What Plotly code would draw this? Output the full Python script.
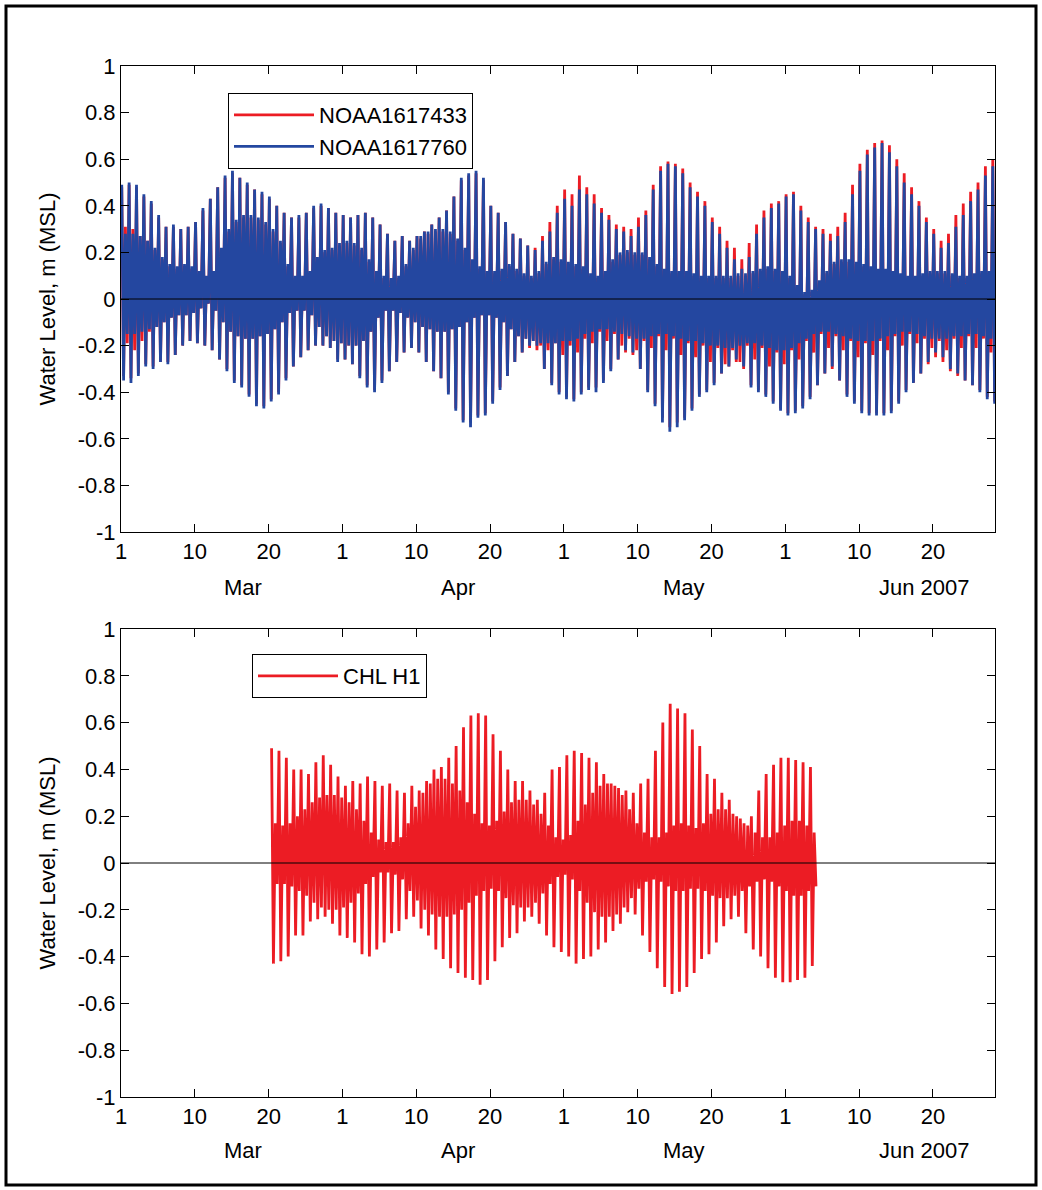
import pandas as pd
import plotly.graph_objects as go

START = pd.Timestamp("2007-03-01")
X_SPAN_DAYS = 118.4

x_tick_days = [0, 10, 20, 30, 40, 50, 60, 70, 80, 90, 100, 110]
x_tick_labels = ["1", "10", "20", "1", "10", "20", "1", "10", "20", "1", "10", "20"]
month_labels = ["Mar", "Apr", "May", "Jun 2007"]
month_label_days = [16.5, 45.7, 76.3, 108.9]
y_tick_vals = [1, 0.8, 0.6, 0.4, 0.2, 0, -0.2, -0.4, -0.6, -0.8, -1]
y_tick_labels = ["1", "0.8", "0.6", "0.4", "0.2", "0", "-0.2", "-0.4", "-0.6", "-0.8", "-1"]

# ---- NOAA1617760 (blue): daily higher high, lower low, lower high, higher low (m, MSL)
n760_start_day = 0
n760_hh = [0.49, 0.50, 0.49, 0.45, 0.42, 0.36, 0.31, 0.32, 0.30, 0.31,
           0.33, 0.39, 0.43, 0.48, 0.53, 0.55, 0.52, 0.50, 0.47, 0.46,
           0.44, 0.40, 0.37, 0.35, 0.36, 0.37, 0.40, 0.41, 0.39, 0.37,
           0.36, 0.35, 0.36, 0.37, 0.35, 0.32, 0.28, 0.25, 0.27, 0.25,
           0.27, 0.29, 0.32, 0.35, 0.38, 0.44, 0.52, 0.54, 0.55, 0.52,
           0.40, 0.37, 0.33, 0.28, 0.26, 0.23, 0.21, 0.25, 0.29, 0.37,
           0.43, 0.40, 0.47, 0.45, 0.41, 0.37, 0.34, 0.30, 0.29, 0.27,
           0.31, 0.36, 0.47, 0.55, 0.58, 0.57, 0.54, 0.48, 0.44, 0.40,
           0.33, 0.28, 0.22, 0.17, 0.13, 0.18, 0.28, 0.35, 0.39, 0.41,
           0.44, 0.45, 0.38, 0.33, 0.30, 0.28, 0.25, 0.27, 0.33, 0.45,
           0.55, 0.62, 0.65, 0.67, 0.63, 0.57, 0.50, 0.45, 0.40, 0.33,
           0.28, 0.22, 0.24, 0.31, 0.36, 0.42, 0.47, 0.53, 0.57]
n760_ll = [-0.35, -0.36, -0.33, -0.29, -0.30, -0.27, -0.28, -0.24, -0.20, -0.18,
           -0.19, -0.20, -0.22, -0.26, -0.31, -0.36, -0.38, -0.42, -0.46, -0.47,
           -0.44, -0.41, -0.35, -0.29, -0.25, -0.22, -0.20, -0.20, -0.21, -0.27,
           -0.26, -0.28, -0.34, -0.38, -0.40, -0.36, -0.31, -0.27, -0.23, -0.21,
           -0.23, -0.27, -0.31, -0.34, -0.41, -0.48, -0.53, -0.55, -0.51, -0.50,
           -0.45, -0.39, -0.33, -0.27, -0.23, -0.20, -0.20, -0.30, -0.37, -0.41,
           -0.43, -0.44, -0.41, -0.39, -0.40, -0.36, -0.31, -0.26, -0.22, -0.23,
           -0.30, -0.40, -0.46, -0.53, -0.57, -0.55, -0.52, -0.48, -0.42, -0.40,
           -0.37, -0.32, -0.29, -0.26, -0.29, -0.38, -0.40, -0.42, -0.45, -0.48,
           -0.50, -0.49, -0.47, -0.43, -0.37, -0.32, -0.29, -0.35, -0.42, -0.45,
           -0.49, -0.50, -0.50, -0.50, -0.49, -0.45, -0.40, -0.36, -0.32, -0.27,
           -0.23, -0.25, -0.30, -0.32, -0.35, -0.37, -0.40, -0.43, -0.45]
n760_lh = [0.28, 0.28, 0.27, 0.25, 0.22, 0.18, 0.15, 0.14, 0.15, 0.14,
           0.12, 0.10, 0.12, 0.22, 0.30, 0.34, 0.36, 0.36, 0.35, 0.33,
           0.30, 0.25, 0.15, 0.10, 0.10, 0.12, 0.18, 0.21, 0.22, 0.24,
           0.25, 0.24, 0.22, 0.17, 0.12, 0.10, 0.09, 0.10, 0.15, 0.22,
           0.27, 0.29, 0.30, 0.30, 0.29, 0.26, 0.22, 0.17, 0.14, 0.12,
           0.12, 0.13, 0.15, 0.13, 0.11, 0.10, 0.12, 0.16, 0.18, 0.17,
           0.16, 0.15, 0.14, 0.11, 0.10, 0.12, 0.17, 0.20, 0.21, 0.20,
           0.20, 0.18, 0.15, 0.13, 0.12, 0.12, 0.12, 0.11, 0.10, 0.10,
           0.10, 0.10, 0.10, 0.11, 0.11, 0.12, 0.13, 0.14, 0.13, 0.12,
           0.10, 0.06, 0.03, 0.04, 0.08, 0.12, 0.16, 0.17, 0.17, 0.16,
           0.15, 0.14, 0.13, 0.13, 0.12, 0.11, 0.10, 0.10, 0.11, 0.12,
           0.12, 0.12, 0.11, 0.10, 0.10, 0.11, 0.12, 0.12, 0.12]
n760_hl = [-0.15, -0.15, -0.14, -0.13, -0.12, -0.10, -0.08, -0.07, -0.07, -0.06,
           -0.04, -0.02, -0.05, -0.10, -0.14, -0.16, -0.17, -0.17, -0.16, -0.15,
           -0.13, -0.10, -0.06, -0.05, -0.05, -0.07, -0.12, -0.16, -0.18, -0.19,
           -0.20, -0.20, -0.18, -0.14, -0.08, -0.05, -0.05, -0.06, -0.08, -0.10,
           -0.12, -0.13, -0.14, -0.14, -0.13, -0.12, -0.10, -0.08, -0.07, -0.07,
           -0.08, -0.10, -0.13, -0.16, -0.17, -0.18, -0.19, -0.19, -0.19, -0.18,
           -0.18, -0.17, -0.15, -0.14, -0.13, -0.13, -0.14, -0.15, -0.16, -0.17,
           -0.17, -0.16, -0.15, -0.15, -0.16, -0.17, -0.18, -0.18, -0.19, -0.20,
           -0.20, -0.21, -0.21, -0.20, -0.19, -0.19, -0.20, -0.21, -0.22, -0.22,
           -0.21, -0.19, -0.17, -0.15, -0.14, -0.14, -0.15, -0.16, -0.17, -0.18,
           -0.18, -0.18, -0.17, -0.16, -0.15, -0.14, -0.14, -0.15, -0.16, -0.17,
           -0.17, -0.17, -0.16, -0.16, -0.15, -0.15, -0.16, -0.17, -0.18]

# ---- NOAA1617433 (red)
n433_start_day = 0
n433_hh = [0.48, 0.49, 0.48, 0.44, 0.41, 0.35, 0.31, 0.31, 0.30, 0.31,
           0.33, 0.38, 0.43, 0.48, 0.52, 0.54, 0.52, 0.49, 0.47, 0.45,
           0.43, 0.40, 0.37, 0.35, 0.35, 0.37, 0.39, 0.40, 0.39, 0.37,
           0.36, 0.35, 0.36, 0.37, 0.35, 0.32, 0.28, 0.25, 0.27, 0.25,
           0.27, 0.29, 0.32, 0.35, 0.38, 0.44, 0.51, 0.53, 0.54, 0.51,
           0.40, 0.37, 0.33, 0.28, 0.26, 0.23, 0.22, 0.27, 0.33, 0.40,
           0.47, 0.45, 0.53, 0.48, 0.45, 0.39, 0.36, 0.32, 0.31, 0.30,
           0.35, 0.38, 0.49, 0.57, 0.59, 0.58, 0.56, 0.50, 0.46, 0.42,
           0.35, 0.31, 0.25, 0.22, 0.17, 0.24, 0.32, 0.38, 0.41, 0.42,
           0.45, 0.46, 0.40, 0.35, 0.31, 0.30, 0.28, 0.31, 0.37, 0.49,
           0.58, 0.64, 0.67, 0.68, 0.66, 0.60, 0.54, 0.48, 0.42, 0.35,
           0.30, 0.25, 0.28, 0.36, 0.41, 0.46, 0.50, 0.57, 0.60]
n433_ll = [-0.33, -0.34, -0.32, -0.28, -0.29, -0.27, -0.27, -0.24, -0.20, -0.18,
           -0.19, -0.20, -0.22, -0.26, -0.30, -0.35, -0.37, -0.41, -0.45, -0.46,
           -0.43, -0.40, -0.34, -0.29, -0.25, -0.22, -0.20, -0.20, -0.21, -0.26,
           -0.26, -0.28, -0.33, -0.37, -0.39, -0.35, -0.31, -0.27, -0.23, -0.21,
           -0.23, -0.27, -0.31, -0.34, -0.40, -0.47, -0.52, -0.53, -0.50, -0.49,
           -0.44, -0.38, -0.33, -0.27, -0.23, -0.21, -0.22, -0.30, -0.36, -0.40,
           -0.42, -0.43, -0.40, -0.38, -0.38, -0.35, -0.30, -0.26, -0.23, -0.24,
           -0.30, -0.39, -0.45, -0.51, -0.55, -0.53, -0.51, -0.47, -0.41, -0.39,
           -0.36, -0.32, -0.29, -0.27, -0.30, -0.37, -0.39, -0.41, -0.44, -0.47,
           -0.49, -0.48, -0.46, -0.42, -0.37, -0.32, -0.30, -0.35, -0.41, -0.44,
           -0.48, -0.49, -0.49, -0.49, -0.48, -0.44, -0.39, -0.36, -0.32, -0.28,
           -0.25, -0.27, -0.31, -0.33, -0.35, -0.37, -0.39, -0.42, -0.44]
n433_lh = [0.31, 0.30, 0.27, 0.25, 0.21, 0.17, 0.14, 0.13, 0.14, 0.13,
           0.11, 0.09, 0.11, 0.21, 0.29, 0.33, 0.35, 0.35, 0.34, 0.32,
           0.29, 0.24, 0.14, 0.09, 0.09, 0.11, 0.17, 0.20, 0.21, 0.23,
           0.24, 0.23, 0.21, 0.16, 0.11, 0.09, 0.08, 0.09, 0.14, 0.21,
           0.26, 0.28, 0.29, 0.29, 0.28, 0.25, 0.21, 0.16, 0.13, 0.11,
           0.11, 0.12, 0.14, 0.12, 0.10, 0.09, 0.11, 0.15, 0.17, 0.16,
           0.15, 0.14, 0.13, 0.10, 0.09, 0.11, 0.16, 0.19, 0.20, 0.19,
           0.19, 0.17, 0.14, 0.12, 0.11, 0.11, 0.11, 0.10, 0.09, 0.09,
           0.09, 0.09, 0.09, 0.10, 0.10, 0.11, 0.12, 0.13, 0.12, 0.11,
           0.09, 0.05, 0.02, 0.03, 0.07, 0.11, 0.15, 0.16, 0.16, 0.15,
           0.14, 0.13, 0.12, 0.12, 0.11, 0.10, 0.09, 0.09, 0.10, 0.11,
           0.11, 0.11, 0.10, 0.09, 0.09, 0.10, 0.11, 0.11, 0.11]
n433_hl = [-0.19, -0.22, -0.18, -0.14, -0.12, -0.10, -0.08, -0.07, -0.07, -0.06,
           -0.04, -0.02, -0.05, -0.10, -0.14, -0.16, -0.17, -0.17, -0.16, -0.15,
           -0.13, -0.10, -0.06, -0.05, -0.05, -0.07, -0.12, -0.16, -0.18, -0.19,
           -0.20, -0.20, -0.18, -0.14, -0.08, -0.05, -0.05, -0.06, -0.08, -0.10,
           -0.12, -0.13, -0.14, -0.14, -0.13, -0.12, -0.10, -0.08, -0.07, -0.07,
           -0.08, -0.10, -0.13, -0.16, -0.17, -0.18, -0.20, -0.22, -0.19, -0.24,
           -0.20, -0.23, -0.17, -0.19, -0.14, -0.18, -0.15, -0.20, -0.17, -0.22,
           -0.18, -0.21, -0.16, -0.22, -0.17, -0.24, -0.19, -0.25, -0.20, -0.27,
           -0.21, -0.28, -0.22, -0.27, -0.20, -0.26, -0.21, -0.29, -0.23, -0.28,
           -0.22, -0.26, -0.18, -0.23, -0.15, -0.21, -0.16, -0.22, -0.18, -0.25,
           -0.19, -0.24, -0.18, -0.22, -0.16, -0.20, -0.15, -0.19, -0.17, -0.21,
           -0.18, -0.22, -0.17, -0.21, -0.16, -0.21, -0.17, -0.23, -0.19]

# ---- CHL H1 (red, lower panel), starts on day 20.3 after 1 Mar
chl_start_day = 20.3
chl_hh = [0.49, 0.48, 0.45, 0.40, 0.40, 0.38, 0.43, 0.46, 0.42, 0.37,
          0.33, 0.35, 0.34, 0.37, 0.35, 0.33, 0.34, 0.31, 0.30, 0.33,
          0.31, 0.35, 0.40, 0.41, 0.45, 0.50, 0.58, 0.63, 0.64, 0.63,
          0.55, 0.48, 0.40, 0.35, 0.35, 0.31, 0.27, 0.30, 0.40, 0.41,
          0.46, 0.48, 0.47, 0.45, 0.43, 0.38, 0.34, 0.32, 0.31, 0.30,
          0.34, 0.36, 0.48, 0.60, 0.68, 0.66, 0.64, 0.57, 0.50, 0.38,
          0.36, 0.30, 0.27, 0.20, 0.17, 0.20, 0.31, 0.38, 0.42, 0.45,
          0.45, 0.44, 0.43, 0.41]
chl_ll = [-0.43, -0.42, -0.40, -0.31, -0.31, -0.25, -0.24, -0.23, -0.26, -0.31,
          -0.32, -0.34, -0.39, -0.40, -0.37, -0.34, -0.30, -0.29, -0.24, -0.23,
          -0.28, -0.31, -0.37, -0.41, -0.45, -0.47, -0.49, -0.50, -0.52, -0.50,
          -0.42, -0.36, -0.32, -0.30, -0.25, -0.23, -0.26, -0.31, -0.36, -0.38,
          -0.40, -0.43, -0.41, -0.40, -0.37, -0.34, -0.29, -0.26, -0.21, -0.22,
          -0.31, -0.38, -0.45, -0.53, -0.56, -0.55, -0.53, -0.47, -0.41, -0.39,
          -0.34, -0.27, -0.24, -0.23, -0.30, -0.37, -0.40, -0.45, -0.49, -0.51,
          -0.51, -0.50, -0.49, -0.44]
chl_lh = [0.17, 0.16, 0.17, 0.20, 0.23, 0.26, 0.28, 0.29, 0.29, 0.28,
          0.26, 0.23, 0.18, 0.13, 0.10, 0.09, 0.09, 0.11, 0.17, 0.24,
          0.30, 0.34, 0.36, 0.36, 0.34, 0.31, 0.26, 0.21, 0.17, 0.16,
          0.18, 0.22, 0.26, 0.27, 0.27, 0.25, 0.21, 0.16, 0.11, 0.10,
          0.12, 0.18, 0.25, 0.30, 0.33, 0.34, 0.33, 0.29, 0.23, 0.17,
          0.13, 0.11, 0.11, 0.13, 0.16, 0.17, 0.16, 0.15, 0.17, 0.21,
          0.23, 0.23, 0.21, 0.19, 0.16, 0.13, 0.11, 0.11, 0.13, 0.16,
          0.18, 0.18, 0.16, 0.13]
chl_hl = [-0.09, -0.09, -0.10, -0.12, -0.14, -0.17, -0.19, -0.20, -0.20, -0.19,
          -0.17, -0.13, -0.09, -0.06, -0.04, -0.04, -0.05, -0.07, -0.12, -0.16,
          -0.20, -0.22, -0.23, -0.23, -0.22, -0.20, -0.17, -0.14, -0.12, -0.11,
          -0.12, -0.15, -0.18, -0.19, -0.19, -0.17, -0.13, -0.09, -0.06, -0.05,
          -0.07, -0.12, -0.17, -0.21, -0.23, -0.23, -0.22, -0.19, -0.15, -0.11,
          -0.08, -0.07, -0.08, -0.10, -0.12, -0.12, -0.11, -0.11, -0.12, -0.14,
          -0.15, -0.15, -0.14, -0.12, -0.10, -0.08, -0.07, -0.08, -0.10, -0.12,
          -0.14, -0.14, -0.12, -0.10]

# phase of the four daily extremes within each day (fraction of a day)
EXTREME_PHASE = [0.10, 0.35, 0.60, 0.85]

BLUE = "#2447A0"
RED = "#EC1C24"
FONT = "Liberation Sans, Arial, sans-serif"
FS = 22
LW = 2.8


def tide_series(start_day, hh, ll, lh, hl):
    t, v = [], []
    for i in range(len(hh)):
        for ph, val in zip(EXTREME_PHASE, (hh[i], ll[i], lh[i], hl[i])):
            t.append(START + pd.Timedelta(days=start_day + i + ph))
            v.append(val)
    return t, v


fig = go.Figure()

t433, v433 = tide_series(n433_start_day, n433_hh, n433_ll, n433_lh, n433_hl)
t760, v760 = tide_series(n760_start_day, n760_hh, n760_ll, n760_lh, n760_hl)
tchl, vchl = tide_series(chl_start_day, chl_hh, chl_ll, chl_lh, chl_hl)

fig.add_trace(go.Scatter(x=t433, y=v433, mode="lines", name="NOAA1617433",
                         line=dict(color=RED, width=LW), xaxis="x", yaxis="y",
                         legend="legend"))
fig.add_trace(go.Scatter(x=t760, y=v760, mode="lines", name="NOAA1617760",
                         line=dict(color=BLUE, width=LW), xaxis="x", yaxis="y",
                         legend="legend"))
fig.add_trace(go.Scatter(x=tchl, y=vchl, mode="lines", name="CHL H1",
                         line=dict(color=RED, width=LW), xaxis="x2", yaxis="y2",
                         legend="legend2"))

W, H = 1042, 1190
xd = [121 / W, 995 / W]
y1d = [(H - 532) / H, (H - 66) / H]
y2d = [(H - 1097) / H, (H - 629) / H]

x_range = [START, START + pd.Timedelta(days=X_SPAN_DAYS)]
tickvals = [START + pd.Timedelta(days=d) for d in x_tick_days]

axis_common = dict(showline=True, linecolor="black", linewidth=1, mirror="ticks",
                   ticks="inside", ticklen=8, tickcolor="black", showgrid=False,
                   zeroline=False, automargin=False,
                   tickfont=dict(family=FONT, size=FS, color="black"))

ytitle = dict(text="Water Level, m (MSL)", font=dict(family=FONT, size=FS))

fig.update_layout(
    width=W, height=H, margin=dict(l=0, r=0, t=0, b=0, pad=0, autoexpand=False),
    paper_bgcolor="white", plot_bgcolor="white", font=dict(family=FONT, color="black"),
    xaxis=dict(domain=xd, anchor="y", type="date", range=x_range, tickmode="array",
               tickvals=tickvals, ticktext=x_tick_labels, **axis_common),
    yaxis=dict(domain=y1d, anchor="x", range=[-1, 1], tickmode="array",
               tickvals=y_tick_vals, ticktext=y_tick_labels, title=ytitle, **axis_common),
    xaxis2=dict(domain=xd, anchor="y2", type="date", range=x_range, tickmode="array",
                tickvals=tickvals, ticktext=x_tick_labels, **axis_common),
    yaxis2=dict(domain=y2d, anchor="x2", range=[-1, 1], tickmode="array",
                tickvals=y_tick_vals, ticktext=y_tick_labels, title=ytitle, **axis_common),
    legend=dict(x=228 / W, y=(H - 93) / H, xanchor="left", yanchor="top",
                bgcolor="white", bordercolor="black", borderwidth=1,
                font=dict(family=FONT, size=FS, color="black"), itemwidth=80,
                tracegroupgap=0),
    legend2=dict(x=252 / W, y=(H - 654) / H, xanchor="left", yanchor="top",
                 bgcolor="white", bordercolor="black", borderwidth=1,
                 font=dict(family=FONT, size=FS, color="black"), itemwidth=80),
    showlegend=True,
)

# zero reference lines (drawn over the data)
for xr, yr in (("x domain", "y"), ("x2 domain", "y2")):
    fig.add_shape(type="line", xref=xr, yref=yr, x0=0, x1=1, y0=0, y1=0,
                  line=dict(color="black", width=1), layer="above")

# month labels under the day ticks
for xa, ypix in (("x", 587), ("x2", 1150)):
    for lab, d in zip(month_labels, month_label_days):
        fig.add_annotation(x=START + pd.Timedelta(days=d), y=(H - ypix) / H, xref=xa,
                           yref="paper", text=lab, showarrow=False,
                           xanchor="center", yanchor="middle",
                           font=dict(family=FONT, size=FS, color="black"))

# outer frame
fig.add_shape(type="rect", xref="paper", yref="paper", x0=6 / W, x1=1036 / W,
              y0=(H - 1185) / H, y1=(H - 6) / H, line=dict(color="black", width=3),
              layer="above")

fig.write_html("out.html", config={"displayModeBar": False},
               post_script="document.body.style.margin='0';document.body.style.overflow='hidden';")
